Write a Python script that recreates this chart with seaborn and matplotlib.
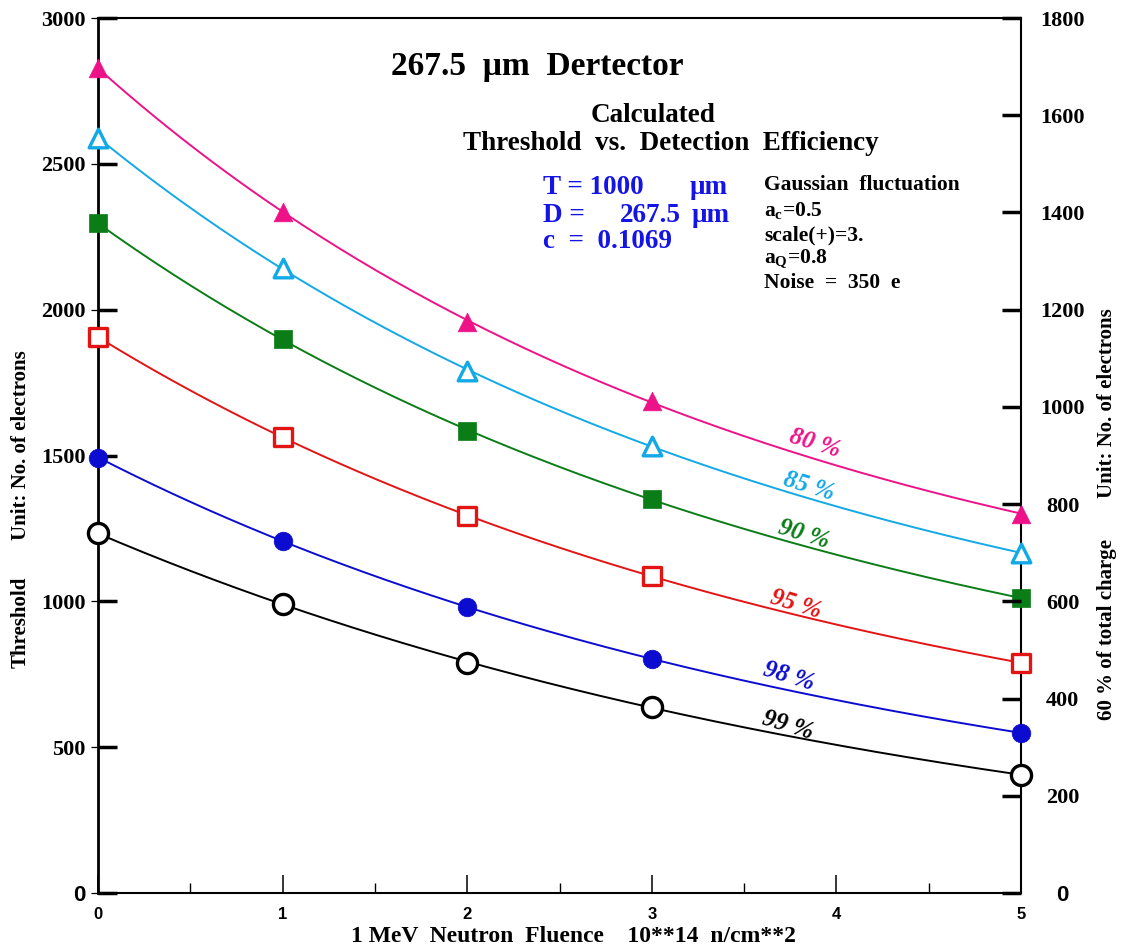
import numpy as np
import pandas as pd
import matplotlib
matplotlib.use("Agg")
import matplotlib.pyplot as plt
import seaborn as sns
from matplotlib.ticker import MultipleLocator

# Fluence points (10**14 n/cm**2) and calculated thresholds (electrons)
fluence = [0, 1, 2, 3, 5]
efficiency = ["80 %", "85 %", "90 %", "95 %", "98 %", "99 %"]
thr_80 = [2830, 2335, 1958, 1687, 1300]
thr_85 = [2589, 2143, 1790, 1533, 1166]
thr_90 = [2296, 1899, 1584, 1351, 1011]
thr_95 = [1906, 1563, 1293, 1087, 789]
thr_98 = [1493, 1207, 981, 802, 549]
thr_99 = [1233, 991, 789, 638, 405]
thresholds = [thr_80, thr_85, thr_90, thr_95, thr_98, thr_99]

left_ticks = [0, 500, 1000, 1500, 2000, 2500, 3000]
right_ticks = [0, 200, 400, 600, 800, 1000, 1200, 1400, 1600, 1800]
x_ticks = [0, 1, 2, 3, 4, 5]

# styling per efficiency curve
colors = ["#ee1289", "#13a9e6", "#0b7d17", "#e31414", "#0c0cd0", "#000000"]
markers = ["^", "^", "s", "s", "o", "o"]
filled = [True, False, True, False, True, False]
label_pos = [(3.884, 1543), (3.852, 1395), (3.825, 1231),
             (3.781, 991), (3.743, 741), (3.738, 573)]

sns.set_theme(style="white")
plt.rcParams["font.family"] = ["Liberation Serif", "DejaVu Serif"]
plt.rcParams["font.weight"] = "bold"
plt.rcParams["text.color"] = "black"
plt.rcParams["axes.labelcolor"] = "black"
plt.rcParams["xtick.color"] = "black"
plt.rcParams["ytick.color"] = "black"
plt.rcParams["mathtext.fontset"] = "custom"
plt.rcParams["mathtext.rm"] = "Liberation Serif"
plt.rcParams["mathtext.bf"] = "Liberation Serif:bold"

narrow = ["Liberation Sans Narrow", "Liberation Sans", "DejaVu Sans"]

W, H = 1123, 948
fig = plt.figure(figsize=(W / 100, H / 100), dpi=100)
fig.patch.set_facecolor("white")
ax = fig.add_axes([98 / W, 1 - 893 / H, (1021 - 98) / W, (893 - 18) / H])
ax.set_facecolor("white")

# long-form table of points
rows = []
for lab, ys in zip(efficiency, thresholds):
    for xv, yv in zip(fluence, ys):
        rows.append({"fluence": xv, "threshold": yv, "eff": lab})
df = pd.DataFrame(rows)

xs = np.linspace(0, 5, 200)
for lab, col, mk, fl in zip(efficiency, colors, markers, filled):
    sub = df[df["eff"] == lab]
    # smooth fitted curve (quadratic in log of threshold)
    coef = np.polyfit(sub["fluence"], np.log(sub["threshold"]), 2)
    fit = pd.DataFrame({"fluence": xs, "threshold": np.exp(np.polyval(coef, xs))})
    sns.lineplot(data=fit, x="fluence", y="threshold", ax=ax, color=col,
                 linewidth=1.4, zorder=3, clip_on=False)
    if fl:
        sns.scatterplot(data=sub, x="fluence", y="threshold", ax=ax, marker=mk,
                        s=180, color=col, edgecolor=col, linewidth=0.5,
                        zorder=5, clip_on=False)
    else:
        sns.scatterplot(data=sub, x="fluence", y="threshold", ax=ax, marker=mk,
                        s=180 if mk != "o" else 210, color="white", edgecolor=col,
                        linewidth=2.4, zorder=5, clip_on=False)

for lab, col, (lx, ly) in zip(efficiency, colors, label_pos):
    ax.text(lx, ly, lab, color=col, fontsize=18, fontstyle="italic",
            fontweight="bold", rotation=-17, ha="center", va="center",
            rotation_mode="anchor")

ax.set_xlim(0, 5)
ax.set_ylim(0, 3000)
ax.set_xlabel("")
ax.set_ylabel("")

for side in ["top", "right", "bottom"]:
    ax.spines[side].set_linewidth(1.5)
    ax.spines[side].set_color("black")
ax.spines["left"].set_linewidth(2.0)
ax.spines["left"].set_color("black")

# x axis ticks
ax.set_xticks(x_ticks)
ax.xaxis.set_minor_locator(MultipleLocator(0.5))
ax.tick_params(axis="x", which="major", direction="in", length=13, width=1.1,
               pad=10, bottom=True, top=False, labelsize=12, colors="black")
ax.tick_params(axis="x", which="minor", direction="in", length=7, width=1.0,
               bottom=True, top=False)
for t in ax.get_xticklabels():
    t.set_fontfamily(narrow)
    t.set_fontweight("bold")

# left axis ticks: thick inside, thin outside stub
ax.set_yticks(left_ticks)
ax.set_yticks(left_ticks, minor=True)
ax.yaxis.remove_overlapping_locs = False
ax.tick_params(axis="y", which="major", direction="in", length=14, width=2.5,
               pad=9, left=True, right=False, labelsize=16, colors="black")
ax.tick_params(axis="y", which="minor", direction="out", length=5, width=0.9,
               left=True, right=False)
ax.get_yticklabels()[0].set_fontfamily(narrow)

# right axis: 60 % of total charge
ax2 = ax.twinx()
ax2.set_ylim(0, 1800)
ax2.set_yticks(right_ticks)
ax2.tick_params(axis="y", direction="in", length=14, width=2.5, pad=30,
                labelsize=16, colors="black")
for t in ax2.get_yticklabels():
    t.set_horizontalalignment("center")
ax2.get_yticklabels()[0].set_fontfamily(narrow)
for side in ["top", "right", "bottom", "left"]:
    ax2.spines[side].set_visible(False)
ax2.grid(False)
ax.grid(False)

# axis titles
fig.text(21 / W, 1 - 445 / H, "Unit: No. of electrons", rotation=90,
         ha="center", va="center", fontsize=15, fontweight="bold")
fig.text(21 / W, 1 - 622 / H, "Threshold", rotation=90,
         ha="center", va="center", fontsize=15, fontweight="bold")
fig.text(1107 / W, 1 - 403 / H, "Unit: No. of electrons", rotation=90,
         ha="center", va="center", fontsize=15, fontweight="bold")
fig.text(1107 / W, 1 - 629 / H, "60 % of total charge", rotation=90,
         ha="center", va="center", fontsize=15, fontweight="bold")
fig.text(573 / W, 1 - 936 / H, "1 MeV  Neutron  Fluence    10**14  n/cm**2",
         ha="center", va="center", fontsize=17, fontweight="bold")

# headings
fig.text(537 / W, 1 - 66 / H, "267.5  \u03bcm  Dertector", ha="center",
         va="center", fontsize=24, fontweight="bold")
fig.text(653 / W, 1 - 116 / H, "Calculated", ha="center", va="center",
         fontsize=19.5, fontweight="bold")
fig.text(671 / W, 1 - 144 / H, "Threshold  vs.  Detection  Efficiency",
         ha="center", va="center", fontsize=19.5, fontweight="bold")

blue = "#1414e6"
fig.text(543 / W, 1 - 188 / H, "T = 1000", ha="left", va="center",
         fontsize=19.5, fontweight="bold", color=blue)
fig.text(543 / W, 1 - 215 / H, "D =", ha="left", va="center",
         fontsize=19.5, fontweight="bold", color=blue)
fig.text(681 / W, 1 - 215 / H, "267.5", ha="right", va="center",
         fontsize=19.5, fontweight="bold", color=blue)
fig.text(690 / W, 1 - 188 / H, "\u03bcm", ha="left", va="center",
         fontsize=19.5, fontweight="bold", color=blue)
fig.text(692 / W, 1 - 215 / H, "\u03bcm", ha="left", va="center",
         fontsize=19.5, fontweight="bold", color=blue)
fig.text(543 / W, 1 - 242 / H, "c  =  0.1069", ha="left", va="center",
         fontsize=19.5, fontweight="bold", color=blue)

side_lines = [("Gaussian  fluctuation", 185), (r"a$_{\mathrm{c}}$=0.5", 211),
              ("scale(+)=3.", 235), (r"a$_{\mathrm{Q}}$=0.8", 259),
              ("Noise  =  350  e", 283)]
for txt, yy in side_lines:
    fig.text(764 / W, 1 - yy / H, txt, ha="left", va="center",
             fontsize=15.5, fontweight="bold", color="black")

fig.savefig("out.png", dpi=100, facecolor="white")
